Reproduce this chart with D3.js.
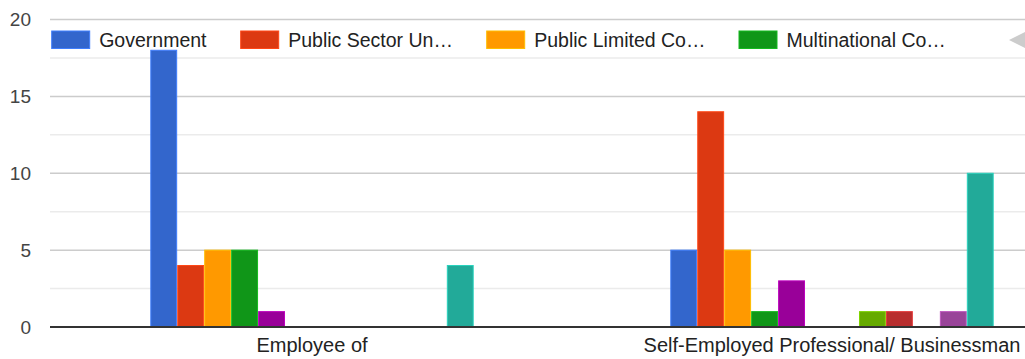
<!DOCTYPE html>
<html>
<head>
<meta charset="utf-8">
<script src="https://cdn.jsdelivr.net/npm/d3@7"></script>
<style>
  html, body { margin: 0; padding: 0; background: #fff; overflow: hidden; }
  svg { display: block; font-family: "Liberation Sans", Arial, sans-serif; }
</style>
</head>
<body>
<svg id="chart" width="1025" height="359"></svg>
<script>
// Employment categories along the x axis
const categories = ["Employee of", "Self-Employed Professional/ Businessman"];

// One series per employer type (Google-style palette order)
const seriesNames = [
  "Government", "Public Sector Undertaking", "Public Limited Company", "Multinational Company",
  "Series 5", "Series 6", "Series 7", "Series 8", "Series 9", "Series 10", "Series 11", "Series 12"
];
const seriesColors = [
  "#3366cc", "#dc3912", "#ff9900", "#109618", "#990099", "#0099c6",
  "#dd4477", "#66aa00", "#b82e2e", "#316395", "#994499", "#22aa99"
];

// Counts per series for each category
const employeeValues     = [18, 4, 5, 5, 1, 0, 0, 0, 0, 0, 0, 4];
const selfEmployedValues = [5, 14, 5, 1, 3, 0, 0, 1, 1, 0, 1, 10];

// Y axis ticks
const yTicks = [0, 5, 10, 15, 20];
const yMinorTicks = [2.5, 7.5, 12.5, 17.5];

// Legend shows only the first page of entries, truncated to fit
const legendLabels = ["Government", "Public Sector Un\u2026", "Public Limited Co\u2026", "Multinational Co\u2026"];

const valuesByCategory = [employeeValues, selfEmployedValues];

const svg = d3.select("#chart");

const plotLeft = 50;
const plotRight = 1025;

const y = d3.scaleLinear().domain([0, 20]).range([327, 19.5]);

const x0 = d3.scaleBand()
  .domain(categories)
  .range([52, 1092])
  .paddingInner(0.38)
  .paddingOuter(0.19);

const x1 = d3.scaleBand()
  .domain(d3.range(seriesNames.length))
  .range([0, x0.bandwidth()])
  .paddingInner(0.04);

// Minor gridlines
svg.append("g").selectAll("line")
  .data(yMinorTicks)
  .join("line")
  .attr("x1", plotLeft).attr("x2", plotRight)
  .attr("y1", d => y(d)).attr("y2", d => y(d))
  .attr("stroke", "#ebebeb").attr("stroke-width", 1.5);

// Major gridlines
svg.append("g").selectAll("line")
  .data(yTicks.filter(d => d !== 0))
  .join("line")
  .attr("x1", plotLeft).attr("x2", plotRight)
  .attr("y1", d => y(d)).attr("y2", d => y(d))
  .attr("stroke", "#cccccc").attr("stroke-width", 1.5);

// Y axis labels
const yAxis = d3.axisLeft(y).tickValues(yTicks).tickSize(0).tickPadding(0).tickFormat(d3.format("d"));
const yAxisG = svg.append("g").attr("transform", "translate(31,0)").call(yAxis);
yAxisG.select(".domain").remove();
yAxisG.selectAll("text")
  .attr("font-size", 19)
  .attr("font-family", "Liberation Sans, Arial, sans-serif")
  .attr("fill", "#444");

// Bars
const groups = svg.append("g").selectAll("g")
  .data(categories)
  .join("g")
  .attr("transform", d => `translate(${x0(d)},0)`);

groups.selectAll("rect")
  .data((d, i) => valuesByCategory[i].map((v, s) => ({ v, s })).filter(e => e.v > 0))
  .join("rect")
  .attr("x", d => x1(d.s))
  .attr("width", x1.bandwidth())
  .attr("y", d => y(d.v))
  .attr("height", d => y(0) - y(d.v))
  .attr("fill", d => seriesColors[d.s])
  .attr("stroke", d => d3.color(seriesColors[d.s]).brighter(0.6))
  .attr("stroke-width", 1);

// Baseline
svg.append("line")
  .attr("x1", plotLeft).attr("x2", plotRight)
  .attr("y1", y(0)).attr("y2", y(0))
  .attr("stroke", "#333").attr("stroke-width", 2);

// Category labels
const xAxis = d3.axisBottom(x0).tickSize(0).tickPadding(0);
const xAxisG = svg.append("g").attr("transform", "translate(0,338)").call(xAxis);
xAxisG.select(".domain").remove();
xAxisG.selectAll("text")
  .attr("font-size", 20)
  .attr("font-family", "Liberation Sans, Arial, sans-serif")
  .attr("fill", "#222")
  .attr("dy", "0.71em");

// Legend
const legendX = [51.7, 240.7, 486.7, 739];
const legend = svg.append("g");
const items = legend.selectAll("g")
  .data(legendLabels)
  .join("g")
  .attr("transform", (d, i) => `translate(${legendX[i]},31)`);
items.append("rect")
  .attr("width", 38).attr("height", 17.5)
  .attr("fill", (d, i) => seriesColors[i])
  .attr("stroke", (d, i) => d3.color(seriesColors[i]).brighter(0.6))
  .attr("stroke-width", 1);
items.append("text")
  .attr("x", 47.5).attr("y", 15.5)
  .attr("font-size", 19.5)
  .attr("fill", "#222")
  .text(d => d);

// Legend paging arrow
legend.append("path")
  .attr("d", d3.line()([[1009, 40], [1027, 31], [1027, 49]]))
  .attr("fill", "#cccccc");
</script>
</body>
</html>
